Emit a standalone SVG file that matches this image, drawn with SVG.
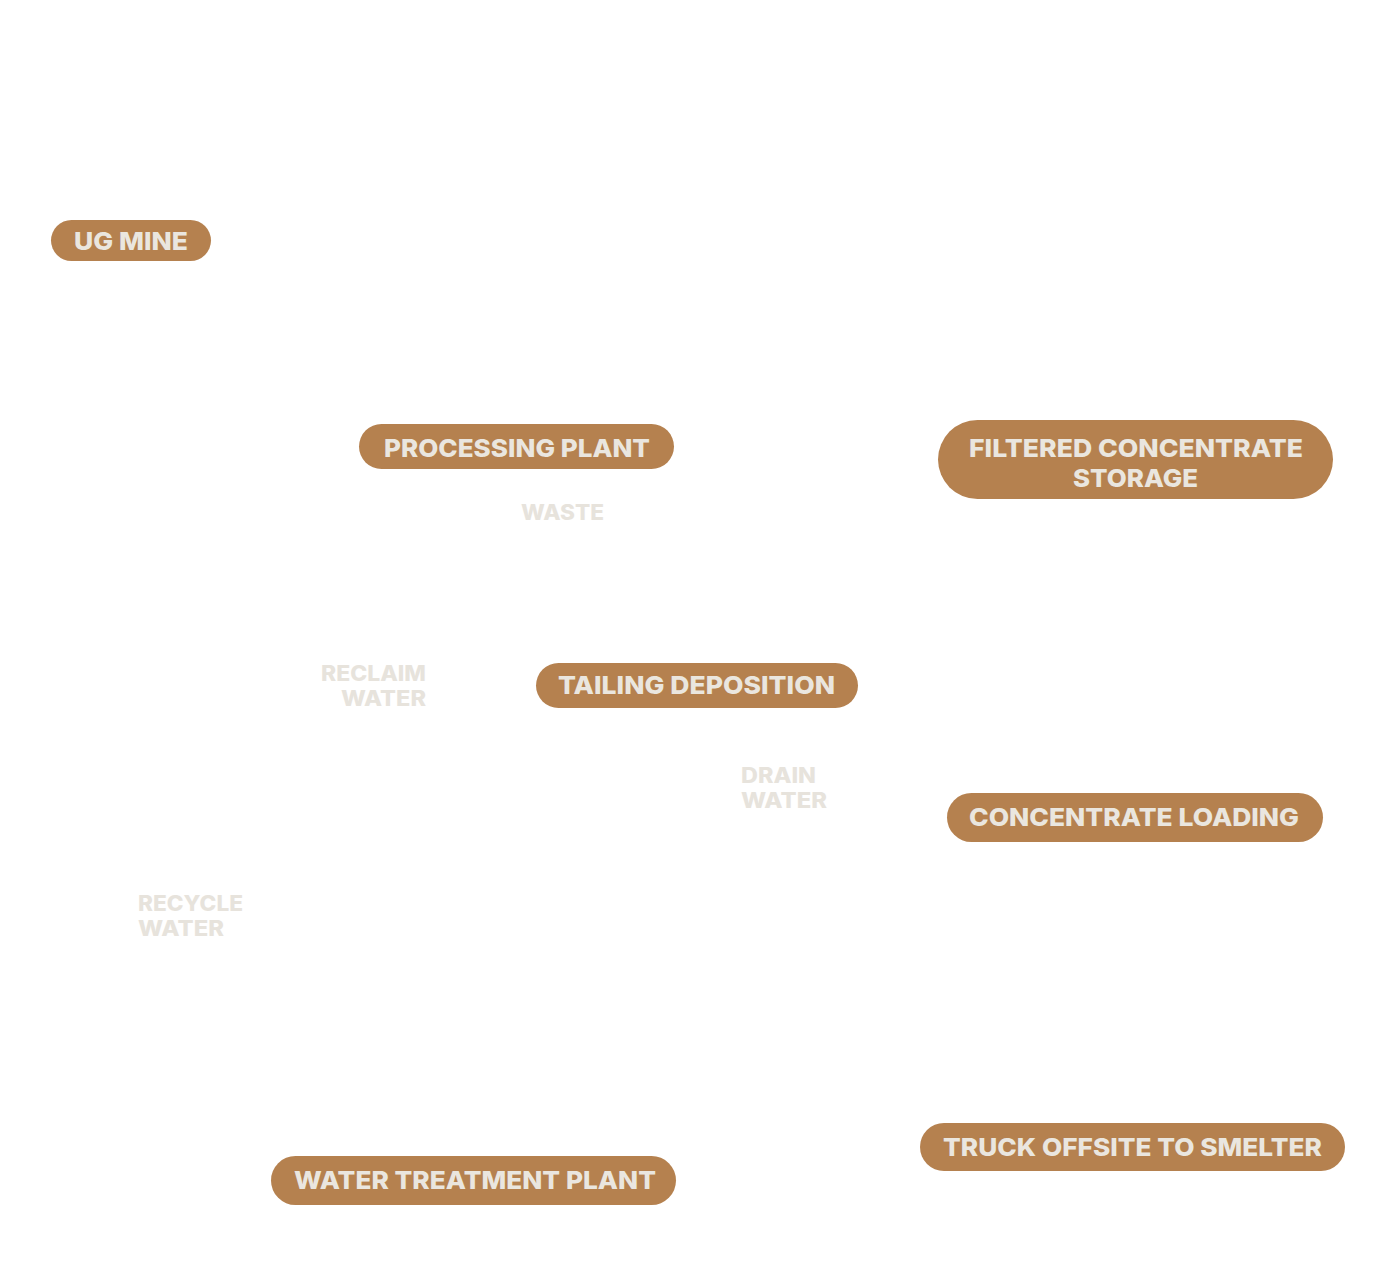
<svg xmlns="http://www.w3.org/2000/svg" width="1390" height="1271" viewBox="0 0 1390 1271">
<style>
.pill{fill:#B5814F}
.nt{font-family:Inter,"Open Sans","Liberation Sans",sans-serif;font-weight:800;font-size:25px;fill:#EAE6DF}
.lb{font-family:Inter,"Open Sans","Liberation Sans",sans-serif;font-weight:800;font-size:21px;fill:#E7E3DC}
</style>
<rect width="1390" height="1271" fill="#FFFFFF"/>
<g id="connectors"></g>
<g id="ug-mine"><rect class="pill" x="51" y="220" width="160" height="41" rx="20.5"/><text class="nt" x="74" y="250" textLength="114" lengthAdjust="spacingAndGlyphs">UG MINE</text></g>
<g id="processing-plant"><rect class="pill" x="359" y="424" width="315" height="45" rx="22.5"/><text class="nt" x="384" y="457" textLength="266" lengthAdjust="spacingAndGlyphs">PROCESSING PLANT</text></g>
<g id="filtered-concentrate-storage"><rect class="pill" x="938" y="420" width="395" height="79" rx="39.5"/><text class="nt" x="969" y="457" textLength="334" lengthAdjust="spacingAndGlyphs">FILTERED CONCENTRATE</text><text class="nt" x="1073" y="487" textLength="125" lengthAdjust="spacingAndGlyphs">STORAGE</text></g>
<g id="tailing-deposition"><rect class="pill" x="536" y="663" width="322" height="45" rx="22.5"/><text class="nt" x="558" y="694" textLength="277" lengthAdjust="spacingAndGlyphs">TAILING DEPOSITION</text></g>
<g id="concentrate-loading"><rect class="pill" x="947" y="793" width="376" height="49" rx="24.5"/><text class="nt" x="969" y="826" textLength="330" lengthAdjust="spacingAndGlyphs">CONCENTRATE LOADING</text></g>
<g id="water-treatment-plant"><rect class="pill" x="271" y="1156" width="405" height="49" rx="24.5"/><text class="nt" x="294" y="1189" textLength="362" lengthAdjust="spacingAndGlyphs">WATER TREATMENT PLANT</text></g>
<g id="truck-offsite"><rect class="pill" x="920" y="1123" width="425" height="48" rx="24"/><text class="nt" x="943" y="1156" textLength="379" lengthAdjust="spacingAndGlyphs">TRUCK OFFSITE TO SMELTER</text></g>
<g id="labels">
<text class="lb" x="521" y="520" textLength="83" lengthAdjust="spacingAndGlyphs">WASTE</text>
<text class="lb" x="321" y="681" textLength="105" lengthAdjust="spacingAndGlyphs">RECLAIM</text>
<text class="lb" x="341" y="706" textLength="85" lengthAdjust="spacingAndGlyphs">WATER</text>
<text class="lb" x="741" y="783" textLength="75" lengthAdjust="spacingAndGlyphs">DRAIN</text>
<text class="lb" x="741" y="808" textLength="86" lengthAdjust="spacingAndGlyphs">WATER</text>
<text class="lb" x="138" y="911" textLength="105" lengthAdjust="spacingAndGlyphs">RECYCLE</text>
<text class="lb" x="138" y="936" textLength="86" lengthAdjust="spacingAndGlyphs">WATER</text>
</g>
</svg>
